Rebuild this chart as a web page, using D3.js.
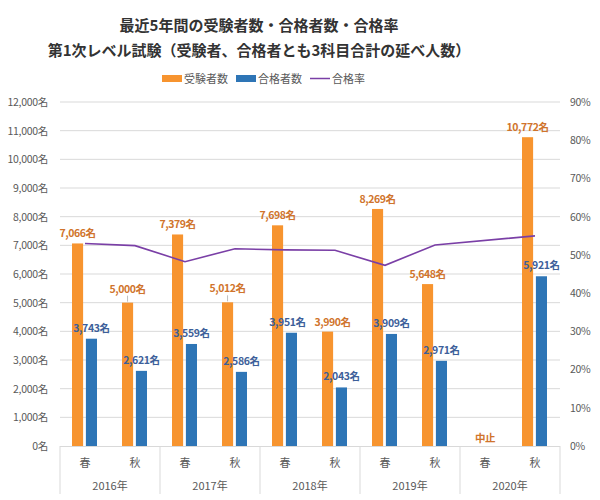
<!DOCTYPE html>
<html><head><meta charset="utf-8">
<script src="https://cdn.jsdelivr.net/npm/d3@7"></script>
<style>body{margin:0;background:#fff;font-family:"Noto Sans CJK JP","Noto Sans",sans-serif;}</style>
</head><body><svg id="c" width="600" height="500"></svg>
<script>
const years = ["2016年","2017年","2018年","2019年","2020年"];
const seasons = ["春","秋","春","秋","春","秋","春","秋","春","秋"];
const examinees = [7066,5000,7379,5012,7698,3990,8269,5648,null,10772];
const passers   = [3743,2621,3559,2586,3951,2043,3909,2971,null,5921];
const passRate  = [52.97,52.42,48.23,51.60,51.32,51.20,47.27,52.60,null,54.97];
const leftTicks = [0,1000,2000,3000,4000,5000,6000,7000,8000,9000,10000,11000,12000];
const rightTicks = [0,10,20,30,40,50,60,70,80,90];
const titleLines = ["最近5年間の受験者数・合格者数・合格率","第1次レベル試験（受験者、合格者とも3科目合計の延べ人数）"];
const legendItems = ["受験者数","合格者数","合格率"];
const suspendedLabel = "中止";

const C_OR="#F7942F", C_BL="#2E75B6", C_LN="#7A3FA6", C_ORT="#D0742C", C_BLT="#3D5F9A", C_AX="#595959", C_GR="#D9D9D9";
const svg = d3.select("#c");
const L=60,R=560,T=102,B=446;
const x0 = d3.scaleBand().domain(d3.range(seasons.length)).range([L,R]).padding(0);
const x1 = d3.scaleBand().domain(["e","p"]).range([12,37]).paddingInner(0.2);
const y = d3.scaleLinear().domain([0,12000]).range([B,T]);
const y2 = d3.scaleLinear().domain([0,90]).range([B,T]);

// title
svg.selectAll(".title").data(titleLines).join("text")
  .attr("x",259).attr("y",(d,i)=>31+i*25).attr("text-anchor","middle")
  .attr("font-size",15).attr("font-weight","bold").attr("fill","#333").text(d=>d);

// legend
const lg = svg.append("g").attr("font-size",11).attr("fill",C_AX);
const lx=[162,236,310];
lg.append("rect").attr("x",lx[0]).attr("y",75).attr("width",20).attr("height",7).attr("fill",C_OR);
lg.append("rect").attr("x",lx[1]).attr("y",75).attr("width",20).attr("height",7).attr("fill",C_BL);
lg.append("line").attr("x1",lx[2]).attr("x2",lx[2]+20).attr("y1",78.5).attr("y2",78.5).attr("stroke",C_LN).attr("stroke-width",1.5);
legendItems.forEach((t,i)=>lg.append("text").attr("x",lx[i]+22).attr("y",82.5).attr("fill",C_AX).text(t));

// grid
svg.append("g").selectAll("line").data(leftTicks.slice(1)).join("line")
  .attr("x1",L).attr("x2",R).attr("y1",d=>y(d)).attr("y2",d=>y(d)).attr("stroke",C_GR).attr("stroke-width",1);

// left axis
const fmt = d3.format(",");
const la = svg.append("g").attr("transform",`translate(${L},0)`)
  .call(d3.axisLeft(y).tickValues(leftTicks).tickSize(0).tickPadding(12).tickFormat(d=>fmt(d)+"名"));
la.select(".domain").remove();
la.selectAll("text").attr("font-size",10.5).attr("fill",C_AX).attr("letter-spacing",-0.3).attr("font-family","'Noto Sans CJK JP',sans-serif");

const ra = svg.append("g").attr("transform",`translate(${R},0)`)
  .call(d3.axisRight(y2).tickValues(rightTicks).tickSize(0).tickPadding(10).tickFormat(d=>d+"%"));
ra.select(".domain").remove();
ra.selectAll("text").attr("font-size",10.5).attr("fill",C_AX).attr("letter-spacing",-0.3).attr("font-family","'Noto Sans CJK JP',sans-serif");

// bars
const idx = d3.range(seasons.length);
svg.append("g").selectAll("rect").data(idx.filter(i=>examinees[i]!=null)).join("rect")
  .attr("x",i=>x0(i)+x1("e")).attr("width",x1.bandwidth())
  .attr("y",i=>y(examinees[i])).attr("height",i=>B-y(examinees[i])).attr("fill",C_OR);
svg.append("g").selectAll("rect").data(idx.filter(i=>passers[i]!=null)).join("rect")
  .attr("x",i=>x0(i)+x1("p")).attr("width",x1.bandwidth())
  .attr("y",i=>y(passers[i])).attr("height",i=>B-y(passers[i])).attr("fill",C_BL);

// x axis
svg.append("line").attr("x1",L).attr("x2",R).attr("y1",B+0.5).attr("y2",B+0.5).attr("stroke",C_GR);
svg.append("g").selectAll("line").data(d3.range(years.length+1)).join("line")
  .attr("x1",i=>L+i*(R-L)/years.length).attr("x2",i=>L+i*(R-L)/years.length)
  .attr("y1",B).attr("y2",B+48).attr("stroke",C_GR);
svg.append("g").selectAll("text").data(idx).join("text")
  .attr("x",i=>x0(i)+x0.bandwidth()/2).attr("y",467).attr("text-anchor","middle")
  .attr("font-size",11).attr("fill",C_AX).text(i=>seasons[i]);
const yb = d3.scaleBand().domain(years).range([L,R]);
svg.append("g").selectAll("text").data(years).join("text")
  .attr("x",d=>yb(d)+yb.bandwidth()/2).attr("y",490).attr("text-anchor","middle")
  .attr("font-size",11).attr("fill",C_AX).text(d=>d);

// line
const pts = idx.filter(i=>passRate[i]!=null);
svg.append("path").datum(pts)
  .attr("d",d3.line().x(i=>x0(i)+x0.bandwidth()/2).y(i=>y2(passRate[i])))
  .attr("fill","none").attr("stroke",C_LN).attr("stroke-width",1.6);

// labels
const lifted = new Set([1,3]);
const lbl = svg.append("g").attr("font-size",10.5).attr("font-weight","bold").attr("letter-spacing",-0.4).attr("text-anchor","middle");
idx.filter(i=>examinees[i]!=null).forEach(i=>{
  const cx = x0(i)+x1("e")+x1.bandwidth()/2 + (i===5?5:0);
  const top = y(examinees[i]);
  const off = lifted.has(i)?10:6;
  if(lifted.has(i)) svg.append("line").attr("x1",cx).attr("x2",cx).attr("y1",top-1).attr("y2",top-7).attr("stroke","#bfbfbf");
  lbl.append("text").attr("x",cx).attr("y",top-off).attr("fill",C_ORT).text(fmt(examinees[i])+"名");
});
idx.filter(i=>passers[i]!=null).forEach(i=>{
  const cx = x0(i)+x1("p")+x1.bandwidth()/2 + (i===4?-4:0);
  lbl.append("text").attr("x",cx).attr("y",y(passers[i])-7).attr("fill",C_BLT).text(fmt(passers[i])+"名");
});
idx.filter(i=>examinees[i]==null).forEach(i=>{
  lbl.append("text").attr("x",x0(i)+x0.bandwidth()/2).attr("y",442).attr("fill",C_ORT).text(suspendedLabel);
});
</script></body></html>
